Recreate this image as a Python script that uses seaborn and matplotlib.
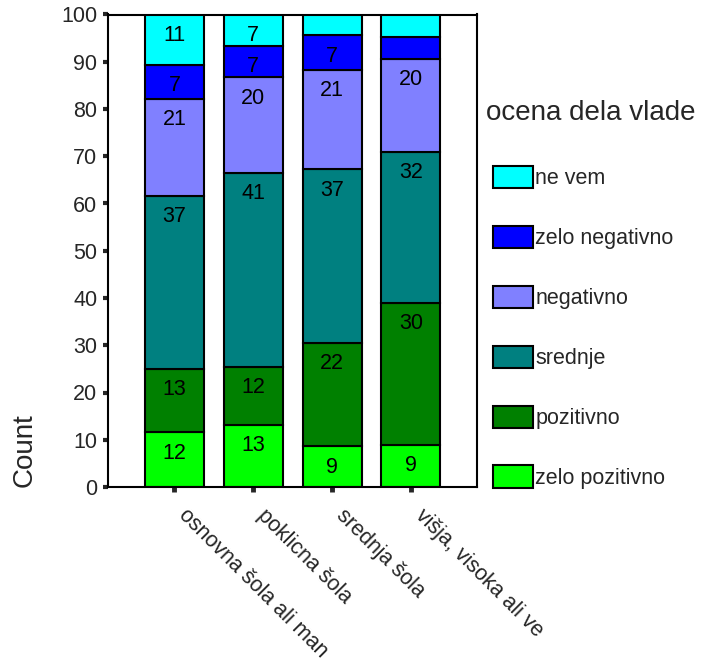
import numpy as np
import pandas as pd
import matplotlib
matplotlib.use("Agg")
import matplotlib.pyplot as plt
import seaborn as sns

# ---- data (percent of each education group) ----
categories = ["osnovna šola ali man", "poklicna šola", "srednja šola", "višja, visoka ali ve"]
levels = ["ne vem", "zelo negativno", "negativno", "srednje", "pozitivno", "zelo pozitivno"]
colors = ["#00FFFF", "#0000FF", "#8080FF", "#008080", "#008000", "#00FF00"]

ne_vem = [10.6, 6.6, 4.4, 4.7]
zelo_negativno = [7.2, 6.7, 7.3, 4.7]
negativno = [20.6, 20.2, 21.0, 19.6]
srednje = [36.6, 41.0, 36.8, 32.0]
pozitivno = [13.4, 12.3, 21.9, 30.1]
zelo_pozitivno = [11.6, 13.2, 8.6, 8.9]

yticks = list(range(0, 101, 10))
legend_title = "ocena dela vlade"
ylabel = "Count"

series = [ne_vem, zelo_negativno, negativno, srednje, pozitivno, zelo_pozitivno]
rows = []
for ci, cat in enumerate(categories):
    for lvl, vals in zip(levels, series):
        rows.append({"edu": cat, "rating": lvl, "pct": vals[ci]})
df = pd.DataFrame(rows)

sns.set_style("ticks")
plt.rcParams["font.family"] = ["Liberation Sans", "DejaVu Sans"]

W, H = 703, 662
fig = plt.figure(figsize=(W / 100, H / 100), dpi=100)
ax = fig.add_axes([108 / W, 1 - 487 / H, (477 - 108) / W, (487 - 14.5) / H])

sns.histplot(data=df, x="edu", weights="pct", hue="rating", hue_order=levels,
             palette=dict(zip(levels, colors)), multiple="stack", discrete=True,
             shrink=0.75, edgecolor="black", linewidth=1.5, alpha=1, ax=ax)

ax.set_xlim(-0.844, 3.84)
ax.set_ylim(0, 100)
ax.set_yticks(yticks)
ax.set_xticks(range(len(categories)))
ax.set_xticklabels(categories, rotation=-45, ha="left", va="bottom",
                   rotation_mode="anchor", fontsize=15.5)
ax.tick_params(axis="y", labelsize=15.5, length=3.6, width=3, pad=4, direction="out")
ax.tick_params(axis="x", length=3.6, width=3.5, pad=20, direction="out")
ax.set_xlabel("")
ax.set_ylabel(ylabel, fontsize=20)
ax.yaxis.set_label_coords(-0.19, 0.078)
for s in ax.spines.values():
    s.set_visible(True)
    s.set_linewidth(1.5)
    s.set_color("black")

# value labels near the top of each segment
for p in ax.patches:
    h = p.get_height()
    if h >= 5:
        ax.annotate(f"{h:.0f}", (p.get_x() + p.get_width() / 2, p.get_y() + h),
                    xytext=(0, -21), textcoords="offset pixels",
                    ha="center", va="center", fontsize=15.5, color="black")

sns.move_legend(ax, "upper left", bbox_to_anchor=(493 / W, 1 - 166 / H),
                bbox_transform=fig.transFigure, frameon=False, title=None,
                fontsize=15.5, handlelength=1.86, handleheight=1.2,
                labelspacing=1.70, handletextpad=0.1, borderaxespad=0, borderpad=0)
fig.text(486 / W, 1 - 113 / H, legend_title, ha="left", va="center", fontsize=20)

fig.savefig("out.png", dpi=100)
